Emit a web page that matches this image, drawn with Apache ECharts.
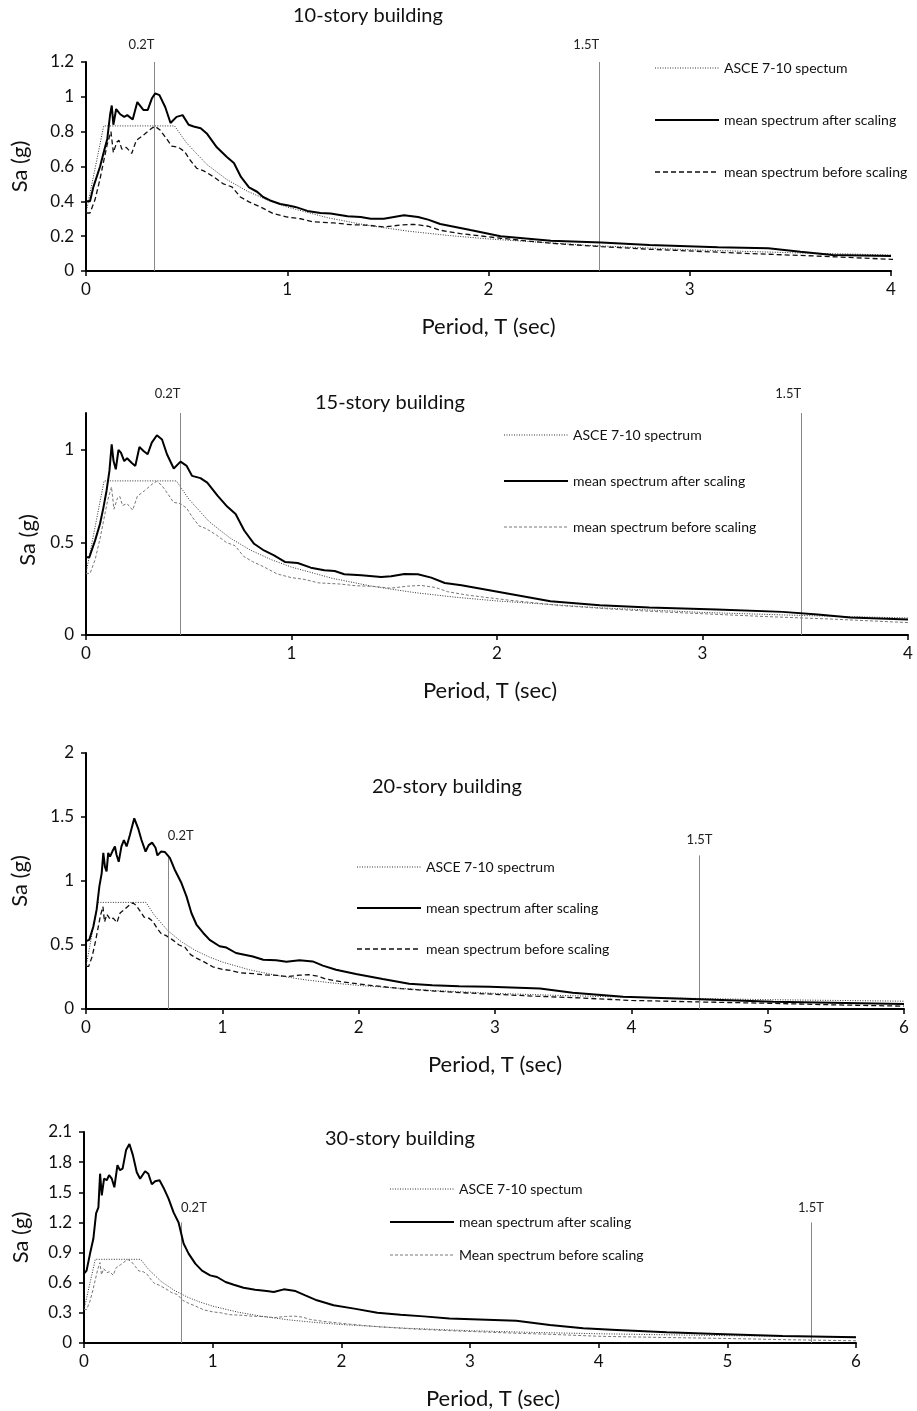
<!DOCTYPE html>
<html>
<head>
<meta charset="utf-8">
<script src="https://cdn.jsdelivr.net/npm/echarts@6/dist/echarts.min.js"></script>
<style>
  html, body { margin: 0; padding: 0; background: #fff; }
  #main { width: 917px; height: 1411px; }
</style>
</head>
<body>
<div id="main"></div>
<script>
// ASCE 7-10 design spectrum (same in every panel), [T, Sa]
var asce = [[0, 0.333], [0.088, 0.833], [0.44, 0.833], [0.5, 0.735], [0.6, 0.612], [0.7, 0.525],
    [0.8, 0.459], [0.9, 0.408], [1.0, 0.367], [1.2, 0.306], [1.4, 0.262], [1.6, 0.229], [1.8, 0.204],
    [2.0, 0.184], [2.5, 0.147], [3.0, 0.122], [3.5, 0.105], [4.0, 0.092], [4.5, 0.082], [5.0, 0.073],
    [5.5, 0.067], [6.0, 0.061]];

// mean spectrum before scaling (same in every panel)
var beforeScaling = [[0, 0.333], [0.02, 0.333], [0.045, 0.41], [0.07, 0.53], [0.086, 0.62], [0.106, 0.73],
    [0.124, 0.80], [0.136, 0.68], [0.153, 0.74], [0.164, 0.75], [0.178, 0.70], [0.20, 0.71], [0.227, 0.675],
    [0.25, 0.75], [0.285, 0.78], [0.327, 0.82], [0.343, 0.83], [0.368, 0.81], [0.40, 0.76], [0.426, 0.717],
    [0.46, 0.71], [0.49, 0.685], [0.518, 0.636], [0.55, 0.59], [0.585, 0.575], [0.635, 0.54], [0.683, 0.50],
    [0.725, 0.483], [0.767, 0.425], [0.81, 0.397], [0.866, 0.368], [0.93, 0.33], [1.0, 0.31], [1.066, 0.30],
    [1.13, 0.282], [1.23, 0.276], [1.315, 0.266], [1.40, 0.263], [1.48, 0.253], [1.565, 0.264], [1.63, 0.268],
    [1.70, 0.257], [1.76, 0.234], [1.86, 0.215], [2.06, 0.188], [2.31, 0.159], [2.56, 0.14], [2.80, 0.125],
    [3.30, 0.10], [3.63, 0.086], [4.0, 0.067], [4.5, 0.055], [5.0, 0.045], [5.5, 0.032], [6.0, 0.022]];

// mean spectrum after scaling, one per building
var after10 = [[0, 0.40], [0.02, 0.40], [0.036, 0.48], [0.07, 0.60], [0.09, 0.69], [0.106, 0.76], [0.12, 0.90],
    [0.128, 0.95], [0.136, 0.84], [0.15, 0.93], [0.17, 0.90], [0.19, 0.885], [0.205, 0.895], [0.232, 0.87],
    [0.255, 0.97], [0.285, 0.925], [0.307, 0.925], [0.327, 0.99], [0.344, 1.02], [0.365, 1.01], [0.394, 0.94],
    [0.42, 0.85], [0.45, 0.885], [0.48, 0.895], [0.51, 0.84], [0.535, 0.83], [0.57, 0.82], [0.60, 0.79],
    [0.65, 0.71], [0.70, 0.655], [0.735, 0.62], [0.77, 0.54], [0.81, 0.48], [0.85, 0.455], [0.88, 0.425],
    [0.915, 0.405], [0.965, 0.385], [1.0, 0.378], [1.04, 0.368], [1.10, 0.345], [1.165, 0.333], [1.215, 0.33],
    [1.30, 0.315], [1.365, 0.31], [1.415, 0.30], [1.48, 0.30], [1.53, 0.31], [1.58, 0.32], [1.65, 0.31],
    [1.70, 0.295], [1.76, 0.27], [1.86, 0.247], [1.91, 0.235], [2.06, 0.20], [2.31, 0.174], [2.56, 0.163],
    [2.80, 0.149], [3.14, 0.136], [3.39, 0.13], [3.55, 0.11], [3.71, 0.092], [4.0, 0.086]];

var after15 = [[0, 0.42], [0.016, 0.42], [0.044, 0.51], [0.068, 0.60], [0.085, 0.69], [0.10, 0.78], [0.114, 0.887],
    [0.125, 1.03], [0.134, 0.94], [0.145, 0.896], [0.158, 1.00], [0.17, 0.986], [0.186, 0.94], [0.20, 0.955],
    [0.223, 0.93], [0.24, 0.914], [0.26, 1.016], [0.28, 0.995], [0.30, 0.977], [0.32, 1.04], [0.345, 1.08],
    [0.37, 1.057], [0.394, 0.977], [0.427, 0.90], [0.46, 0.937], [0.49, 0.914], [0.516, 0.86], [0.557, 0.848],
    [0.59, 0.824], [0.64, 0.753], [0.687, 0.694], [0.728, 0.654], [0.77, 0.565], [0.818, 0.493], [0.866, 0.457],
    [0.915, 0.43], [0.97, 0.394], [1.03, 0.389], [1.094, 0.364], [1.16, 0.35], [1.21, 0.346], [1.257, 0.328],
    [1.34, 0.323], [1.436, 0.314], [1.485, 0.317], [1.55, 0.33], [1.615, 0.328], [1.68, 0.31], [1.746, 0.281],
    [1.827, 0.269], [2.01, 0.233], [2.26, 0.183], [2.50, 0.161], [2.74, 0.149], [3.07, 0.138], [3.39, 0.125],
    [3.56, 0.111], [3.72, 0.095], [4.0, 0.084]];

var after20 = [[0, 0.53], [0.024, 0.54], [0.054, 0.645], [0.078, 0.776], [0.098, 0.958], [0.115, 1.06],
    [0.127, 1.22], [0.139, 1.11], [0.151, 1.075], [0.163, 1.22], [0.176, 1.19], [0.193, 1.23], [0.212, 1.27],
    [0.224, 1.205], [0.24, 1.15], [0.26, 1.27], [0.278, 1.32], [0.298, 1.27], [0.322, 1.36], [0.354, 1.49],
    [0.383, 1.41], [0.407, 1.32], [0.437, 1.23], [0.46, 1.28], [0.485, 1.30], [0.51, 1.26], [0.524, 1.20],
    [0.55, 1.23], [0.578, 1.227], [0.615, 1.18], [0.65, 1.09], [0.70, 0.984], [0.737, 0.88], [0.773, 0.75],
    [0.81, 0.66], [0.86, 0.594], [0.907, 0.54], [0.98, 0.49], [1.03, 0.48], [1.10, 0.4375], [1.224, 0.41],
    [1.30, 0.385], [1.395, 0.38], [1.47, 0.37], [1.566, 0.38], [1.663, 0.372], [1.737, 0.339], [1.834, 0.307],
    [1.98, 0.273], [2.176, 0.234], [2.37, 0.198], [2.54, 0.185], [2.737, 0.177], [2.96, 0.174], [3.33, 0.16],
    [3.57, 0.127], [3.94, 0.096], [4.5, 0.076], [5.04, 0.057], [6.0, 0.039]];

var after30 = [[0, 0.69], [0.02, 0.72], [0.047, 0.89], [0.073, 1.04], [0.094, 1.29], [0.112, 1.35],
    [0.125, 1.685], [0.138, 1.47], [0.156, 1.635], [0.177, 1.62], [0.195, 1.67], [0.216, 1.635], [0.236, 1.55],
    [0.26, 1.77], [0.28, 1.72], [0.30, 1.735], [0.327, 1.92], [0.353, 1.98], [0.38, 1.87], [0.41, 1.70],
    [0.436, 1.635], [0.475, 1.71], [0.50, 1.685], [0.527, 1.58], [0.553, 1.61], [0.587, 1.62], [0.618, 1.546],
    [0.657, 1.437], [0.696, 1.30], [0.735, 1.20], [0.774, 0.99], [0.813, 0.89], [0.865, 0.79], [0.917, 0.72],
    [0.98, 0.673], [1.034, 0.657], [1.10, 0.607], [1.164, 0.58], [1.24, 0.55], [1.33, 0.53], [1.42, 0.517],
    [1.475, 0.508], [1.553, 0.534], [1.644, 0.517], [1.72, 0.474], [1.81, 0.425], [1.94, 0.375], [2.10, 0.342],
    [2.28, 0.302], [2.46, 0.282], [2.64, 0.265], [2.84, 0.245], [3.36, 0.222], [3.62, 0.18], [3.88, 0.146],
    [4.14, 0.13], [4.53, 0.106], [4.92, 0.09], [5.43, 0.07], [6.0, 0.057]];

// 0.2T and 1.5T periods for each building
var markT10 = [0.34, 2.55];
var markT15 = [0.46, 3.48];
var markT20 = [0.60, 4.50];
var markT30 = [0.754, 5.65];
var markTop = 1.2;

var titles = ['10-story building', '15-story building', '20-story building', '30-story building'];
var asceNames = ['ASCE 7-10 spectum', 'ASCE 7-10 spectrum', 'ASCE 7-10 spectrum', 'ASCE 7-10 spectum'];
var afterName = 'mean spectrum after scaling';
var beforeNames = ['mean spectrum before scaling', 'mean spectrum before scaling',
    'mean spectrum before scaling', 'Mean spectrum before scaling'];

var font = 'Lato';

var panels = [
    { after: after10, marks: markT10, xMax: 4, yMax: 1.2, yInt: 0.2, grayBefore: false,
      grid: { left: 86, right: 26, top: 62, height: 209 },
      title: { left: 293, top: 6 }, legend: { left: 654, top: 61, itemGap: 38 },
      nameGapY: 55, xNamePad: [0, 0, 0, 0], yNamePad: [0, 0, 0, 0],
      lab02: { align: 'right', distance: 11 }, lab15: { align: 'right', distance: 11 } },
    { after: after15, marks: markT15, xMax: 4, yMax: 1.2, yInt: 0.5, grayBefore: true,
      grid: { left: 86, right: 9, top: 413, height: 222 },
      title: { left: 315, top: 393 }, legend: { left: 503, top: 428, itemGap: 32 },
      nameGapY: 45, xNamePad: [0, 14, 0, 0], yNamePad: [0, 32, 0, 0],
      lab02: { align: 'right', distance: 13 }, lab15: { align: 'right', distance: 13 } },
    { after: after20, marks: markT20, xMax: 6, yMax: 2, yInt: 0.5, grayBefore: false,
      grid: { left: 86, right: 13, top: 753, height: 256 },
      title: { left: 372, top: 777 }, legend: { left: 356, top: 860, itemGap: 27 },
      nameGapY: 55, xNamePad: [0, 0, 0, 0], yNamePad: [0, 0, 0, 0],
      lab02: { align: 'left', distance: 13 }, lab15: { align: 'center', distance: 9 } },
    { after: after30, marks: markT30, xMax: 6, yMax: 2.1, yInt: 0.3, grayBefore: true,
      grid: { left: 84, right: 61, top: 1132, height: 211 },
      title: { left: 325, top: 1129 }, legend: { left: 389, top: 1182, itemGap: 19 },
      nameGapY: 52, xNamePad: [0, 0, 0, 46], yNamePad: [0, 0, 0, 0],
      lab02: { align: 'left', distance: 8 }, lab15: { align: 'center', distance: 8 } }
];

var grids = [], xAxes = [], yAxes = [], series = [], titleList = [], legends = [];

panels.forEach(function (p, i) {
    grids.push(p.grid);

    xAxes.push({
        type: 'value', gridIndex: i, min: 0, max: p.xMax, interval: 1,
        axisLine: { show: true, onZero: false, lineStyle: { color: '#000', width: 2 } },
        axisTick: { show: true, length: 5, lineStyle: { color: '#000', width: 1.5 } },
        axisLabel: { color: '#111', fontSize: 17, fontFamily: font, margin: 10 },
        splitLine: { show: false },
        name: 'Period, T (sec)', nameLocation: 'middle', nameGap: 45,
        nameTextStyle: { color: '#111', fontSize: 22, fontFamily: font, padding: p.xNamePad }
    });

    var yAxis = {
        type: 'value', gridIndex: i, min: 0, max: p.yMax, interval: p.yInt,
        axisLine: { show: true, onZero: false, lineStyle: { color: '#000', width: 2 } },
        axisTick: { show: true, length: 5, lineStyle: { color: '#000', width: 1.5 } },
        axisLabel: { color: '#111', fontSize: 17, fontFamily: font, margin: 12 },
        splitLine: { show: false },
        name: 'Sa (g)', nameLocation: 'middle', nameGap: p.nameGapY, nameRotate: 90,
        nameTextStyle: { color: '#111', fontSize: 22, fontFamily: font, padding: p.yNamePad }
    };
    if (p.yMax === 1.2 && p.yInt === 0.5) {
        yAxis.axisTick.customValues = [0, 0.5, 1];
        yAxis.axisLabel.customValues = [0, 0.5, 1];
    }
    yAxes.push(yAxis);

    titleList.push({
        text: titles[i], left: p.title.left, top: p.title.top, padding: 0,
        textStyle: { fontSize: 20, fontWeight: 'normal', color: '#111', fontFamily: font }
    });

    var asceStyle = { color: '#333', width: 1, type: [1, 1.5] };
    var afterStyle = { color: '#000', width: 2, type: 'solid' };
    var beforeStyle = p.grayBefore
        ? { color: '#777', width: 1, type: [3, 2] }
        : { color: '#111', width: 1.3, type: [5, 3] };

    var markStyle = { color: '#888', width: 1, type: 'solid' };
    var markLabel = function (txt, cfg) {
        return { show: true, position: 'end', formatter: txt, align: cfg.align, distance: cfg.distance,
                 color: '#222', fontSize: 13, fontFamily: font };
    };

    series.push({
        name: asceNames[i], type: 'line', xAxisIndex: i, yAxisIndex: i,
        data: asce, symbol: 'none', lineStyle: asceStyle, z: 3, animation: false,
        markLine: {
            silent: true, symbol: ['none', 'none'], lineStyle: markStyle,
            label: markLabel('0.2T', p.lab02),
            data: [[{ coord: [p.marks[0], 0] }, { coord: [p.marks[0], markTop] }]]
        }
    });
    series.push({
        name: beforeNames[i], type: 'line', xAxisIndex: i, yAxisIndex: i,
        data: beforeScaling, symbol: 'none', lineStyle: beforeStyle, z: 4, animation: false,
        markLine: {
            silent: true, symbol: ['none', 'none'], lineStyle: markStyle,
            label: markLabel('1.5T', p.lab15),
            data: [[{ coord: [p.marks[1], 0] }, { coord: [p.marks[1], markTop] }]]
        }
    });
    series.push({
        name: afterName, type: 'line', xAxisIndex: i, yAxisIndex: i,
        data: p.after, symbol: 'none', lineStyle: afterStyle, z: 5, animation: false
    });

    legends.push({
        orient: 'vertical', left: p.legend.left, top: p.legend.top, itemGap: p.legend.itemGap,
        itemWidth: 64, itemHeight: 14, padding: 0, selectedMode: false,
        textStyle: { fontSize: 14, color: '#111', fontFamily: font },
        itemStyle: { opacity: 0 },
        data: [
            { name: asceNames[i], lineStyle: asceStyle },
            { name: afterName, lineStyle: afterStyle },
            { name: beforeNames[i], lineStyle: beforeStyle }
        ]
    });
});

var chart = echarts.init(document.getElementById('main'));
chart.setOption({
    backgroundColor: '#fff',
    animation: false,
    title: titleList,
    legend: legends,
    grid: grids,
    xAxis: xAxes,
    yAxis: yAxes,
    series: series
});
window.onresize = function () { chart.resize(); };
</script>
</body>
</html>
